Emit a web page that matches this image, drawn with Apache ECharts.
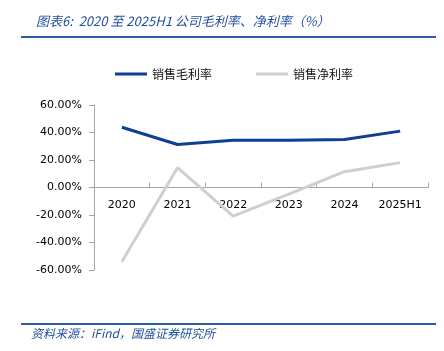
<!DOCTYPE html>
<html>
<head>
<meta charset="utf-8">
<script src="https://cdn.jsdelivr.net/npm/echarts@6/dist/echarts.min.js"></script>
<style>
  html, body { margin: 0; padding: 0; background: #fff; }
  #chart { width: 444px; height: 351px; }
</style>
</head>
<body>
<div id="chart"></div>
<script>
const categories = ['2020', '2021', '2022', '2023', '2024', '2025H1'];
const grossMargin = [43.8, 31.3, 34.4, 34.4, 34.9, 41.0];
const netMargin = [-54.0, 14.4, -20.8, -4.8, 11.5, 18.1];
const seriesNames = ['销售毛利率', '销售净利率'];

const cjk = '"Noto Sans CJK SC", sans-serif';
const num = '"DejaVu Sans", sans-serif';
const axisGray = '#a6a6a6';

const myChart = echarts.init(document.getElementById('chart'), null, { renderer: 'canvas' });

const option = {
  backgroundColor: '#fff',
  animation: false,
  title: {
    text: '图表6:  2020 至 2025H1 公司毛利率、净利率（%）',
    left: 31,
    top: 10,
    textStyle: {
      color: '#1f4e9f',
      fontSize: 13,
      fontWeight: 'normal',
      fontStyle: 'italic',
      fontFamily: cjk
    }
  },
  legend: {
    data: seriesNames,
    left: 110,
    top: 63,
    itemWidth: 32,
    itemHeight: 3,
    itemGap: 44,
    icon: 'rect',
    textStyle: { fontFamily: cjk, fontSize: 12, color: '#111' }
  },
  grid: { left: 94, right: 16, top: 105, bottom: 81 },
  xAxis: {
    type: 'category',
    data: categories,
    boundaryGap: true,
    // axis sits on the zero line: grid height 165, half of it up
    offset: -82.5,
    axisLine: { onZero: false, lineStyle: { color: axisGray, width: 1 } },
    axisTick: { show: true, inside: true, length: 5, lineStyle: { color: axisGray } },
    axisLabel: { interval: 0, margin: 12, color: '#000', fontFamily: num, fontSize: 11 },
    splitLine: { show: false }
  },
  yAxis: {
    type: 'value',
    min: -60,
    max: 60,
    interval: 20,
    axisLine: { show: true, lineStyle: { color: axisGray, width: 1 } },
    axisTick: { show: true, length: 5, lineStyle: { color: axisGray } },
    axisLabel: {
      margin: 12,
      color: '#000',
      fontFamily: num,
      fontSize: 11,
      formatter: (v) => v.toFixed(2) + '%'
    },
    splitLine: { show: false }
  },
  series: [
    {
      name: seriesNames[0],
      type: 'line',
      data: grossMargin,
      showSymbol: false,
      color: '#0d3f95',
      lineStyle: { width: 3, color: '#0d3f95' }
    },
    {
      name: seriesNames[1],
      type: 'line',
      data: netMargin,
      showSymbol: false,
      color: '#cfcfcf',
      lineStyle: { width: 3, color: '#cfcfcf' }
    }
  ],
  graphic: [
    {
      type: 'rect',
      shape: { x: 21, y: 36, width: 415, height: 2 },
      style: { fill: '#2a5ca8' }
    },
    {
      type: 'rect',
      shape: { x: 21, y: 323, width: 415, height: 2 },
      style: { fill: '#2a5ca8' }
    },
    {
      type: 'text',
      left: 31,
      top: 327,
      style: {
        text: '资料来源：iFind，国盛证券研究所',
        fill: '#1f4e9f',
        font: 'italic 12px "Noto Sans CJK SC", sans-serif'
      }
    }
  ]
};

myChart.setOption(option);
</script>
</body>
</html>
